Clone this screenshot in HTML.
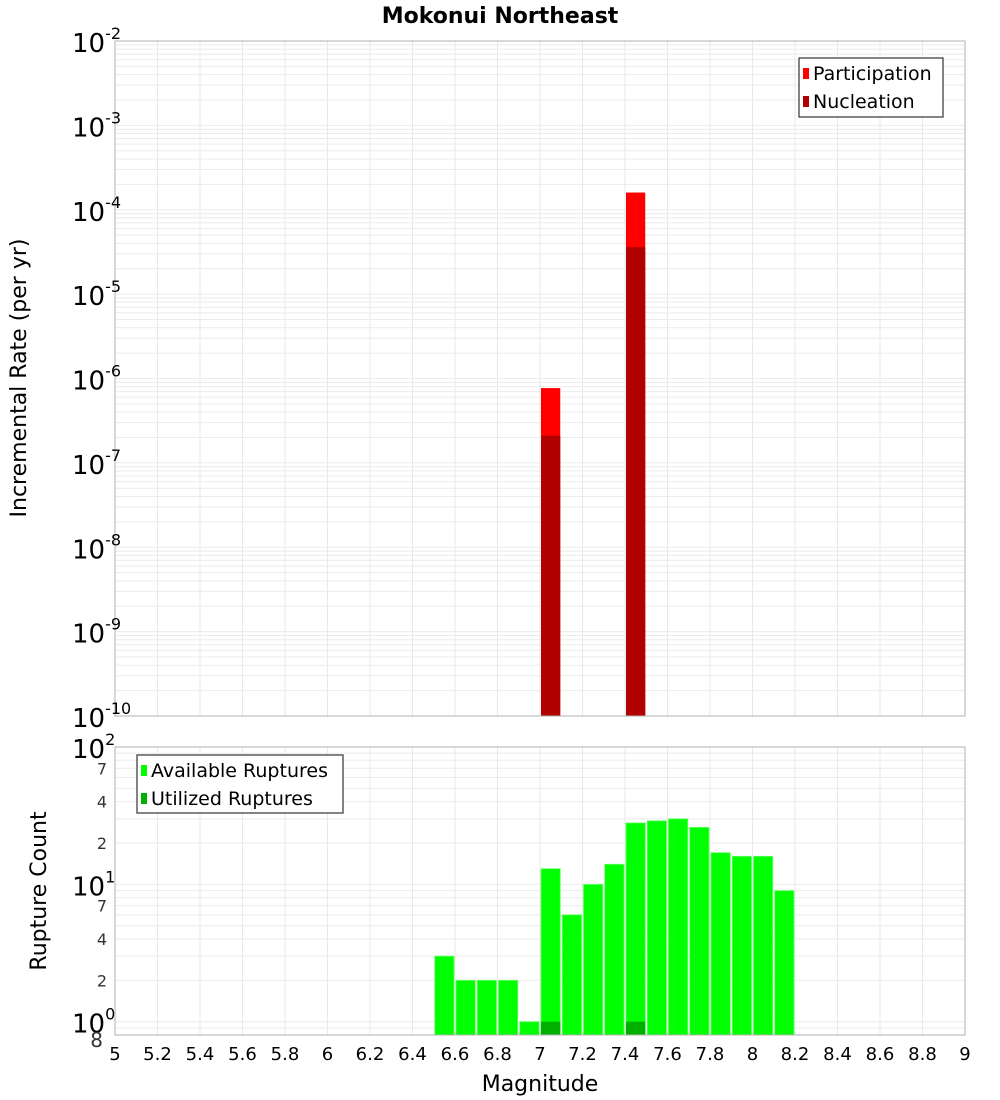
<!DOCTYPE html>
<html><head><meta charset="utf-8"><style>
html,body{margin:0;padding:0;background:#fff}
svg{display:block;font-family:"DejaVu Sans","Liberation Sans",sans-serif}
</style></head><body>
<svg id="chart" width="1000" height="1100">
<text x="500" y="23" text-anchor="middle" font-size="22" font-weight="bold">Mokonui Northeast</text>
<g id="topPlot"></g>
<g id="botPlot"></g>
<text transform="translate(26,378) rotate(-90)" text-anchor="middle" font-size="22">Incremental Rate (per yr)</text>
<text transform="translate(46,891) rotate(-90)" text-anchor="middle" font-size="22">Rupture Count</text>
<text x="540" y="1091" text-anchor="middle" font-size="22">Magnitude</text>
</svg>
<script>
const rateMags = [7.0, 7.4];
const participation = [7.7e-7, 1.6e-4];
const nucleation = [2.1e-7, 3.6e-5];
const countMags = [6.5,6.6,6.7,6.8,6.9,7.0,7.1,7.2,7.3,7.4,7.5,7.6,7.7,7.8,7.9,8.0,8.1];
const available = [3,2,2,2,1,13,6,10,14,28,29,30,26,17,16,16,9];
const utilizedMags = [7.0, 7.4];
const utilized = [1, 1];
const xTicks = [5,5.2,5.4,5.6,5.8,6,6.2,6.4,6.6,6.8,7,7.2,7.4,7.6,7.8,8,8.2,8.4,8.6,8.8,9];
const binWidth = 0.1;

const NS='http://www.w3.org/2000/svg';
const L=115,R=965;
const X=m=>L+(m-5)/(9-5)*(R-L);
const T0=41,T1=716, Yt=v=>T1-(Math.log10(v)+10)/8*(T1-T0);
const B0=747,B1=1035, bmin=0.8,bmax=100;
const Yb=v=>B1-(Math.log10(v)-Math.log10(bmin))/(Math.log10(bmax)-Math.log10(bmin))*(B1-B0);
function mk(tag,attrs,parent,text){const e=document.createElementNS(NS,tag);for(const k in attrs)e.setAttribute(k,attrs[k]);if(text!==undefined)e.textContent=text;parent.appendChild(e);return e;}
const gTop=document.getElementById('topPlot'),gBot=document.getElementById('botPlot');

function grid(g,y0,y1,Y,dmin,dmax,lo,hi){
  for(const t of xTicks){const l=mk('line',{x1:X(t),x2:X(t),y1:y0,y2:y1,stroke:'#e8e8e8','stroke-width':1},g);
    
    }
  for(let d=dmin;d<=dmax;d++)for(let k=1;k<10;k++){const v=k*Math.pow(10,d);if(v<lo||v>hi)continue;
    const l=mk('line',{x1:L,x2:R,y1:Y(v),y2:Y(v),stroke:'#ebebeb','stroke-width':1},g);
    
    }
}
grid(gTop,T0,T1,Yt,-10,-2,1e-10,1e-2);
grid(gBot,B0,B1,Yb,-1,2,bmin,bmax);

rateMags.forEach((m,i)=>{
  const x=X(m)+1,w=X(m+binWidth)-X(m)-2;
  const p=mk('rect',{x:x,y:Yt(participation[i]),width:w,height:T1-Yt(participation[i]),fill:'#ff0000'},gTop);
  
  
  const n=mk('rect',{x:x,y:Yt(nucleation[i]),width:w,height:T1-Yt(nucleation[i]),fill:'#b00000'},gTop);
  
  
});
countMags.forEach((m,i)=>{
  const x=X(m)+1,w=X(m+binWidth)-X(m)-2;
  const b=mk('rect',{x:x,y:Yb(available[i]),width:w,height:B1-Yb(available[i]),fill:'#00ff00',stroke:'#66ff66','stroke-width':0.8},gBot);
  
  
});
utilizedMags.forEach((m,i)=>{
  const x=X(m)+1,w=X(m+binWidth)-X(m)-2;
  const b=mk('rect',{x:x,y:Yb(utilized[i]),width:w,height:B1-Yb(utilized[i]),fill:'#00b000'},gBot);
  
  
});
const f1=mk('rect',{x:L,y:T0,width:R-L,height:T1-T0,fill:'none',stroke:'#b0b0b0'},gTop);


const f2=mk('rect',{x:L,y:B0,width:R-L,height:B1-B0,fill:'none',stroke:'#b0b0b0'},gBot);



for(let d=-10;d<=-2;d++){
  const t=mk('text',{x:72,y:Yt(Math.pow(10,d))+11,'font-size':26},gTop);
  
  
  mk('tspan',{},t,'10');
  mk('tspan',{dy:-13,'font-size':16},t,String(d));
}
[0,1,2].forEach(d=>{
  const t=mk('text',{x:72,y:Yb(Math.pow(10,d))+11,'font-size':26},gBot);
  
  
  mk('tspan',{},t,'10');
  mk('tspan',{dy:-13,'font-size':16},t,String(d));
});
[2,4,7,20,40,70,0.8].forEach(v=>{
  const s=v<1?'8':String(v).charAt(0);
  const t=mk('text',{x:v<1?103:107,y:Yb(v)+(v<1?12:6),'font-size':v<1?20:16,'text-anchor':'end',fill:'#333'},gBot,s);
  
  
});
xTicks.forEach(v=>{
  const t=mk('text',{x:X(v),y:1060,'font-size':18,'text-anchor':'middle'},gBot,String(v));
  
  
});
function legend(g,x,y,w,h,items,name){
  const lg=mk('g',{},g);
  
  
  mk('rect',{x:x,y:y,width:w,height:h,fill:'#fff',stroke:'#333','stroke-width':1.2},lg);
  items.forEach((it,i)=>{
    const cy=y+15+i*28;
    mk('rect',{x:x+4,y:cy-5,width:6,height:11,fill:it[1]},lg);
    const t=mk('text',{x:x+14,y:cy+7,'font-size':19},lg,it[0]);
    
    
  });
}
legend(gTop,799,58,144,59,[['Participation','#ff0000'],['Nucleation','#b00000']],'rate-legend');
legend(gBot,137,755,206,58,[['Available Ruptures','#00ff00'],['Utilized Ruptures','#00b000']],'count-legend');
</script>
</body></html>
